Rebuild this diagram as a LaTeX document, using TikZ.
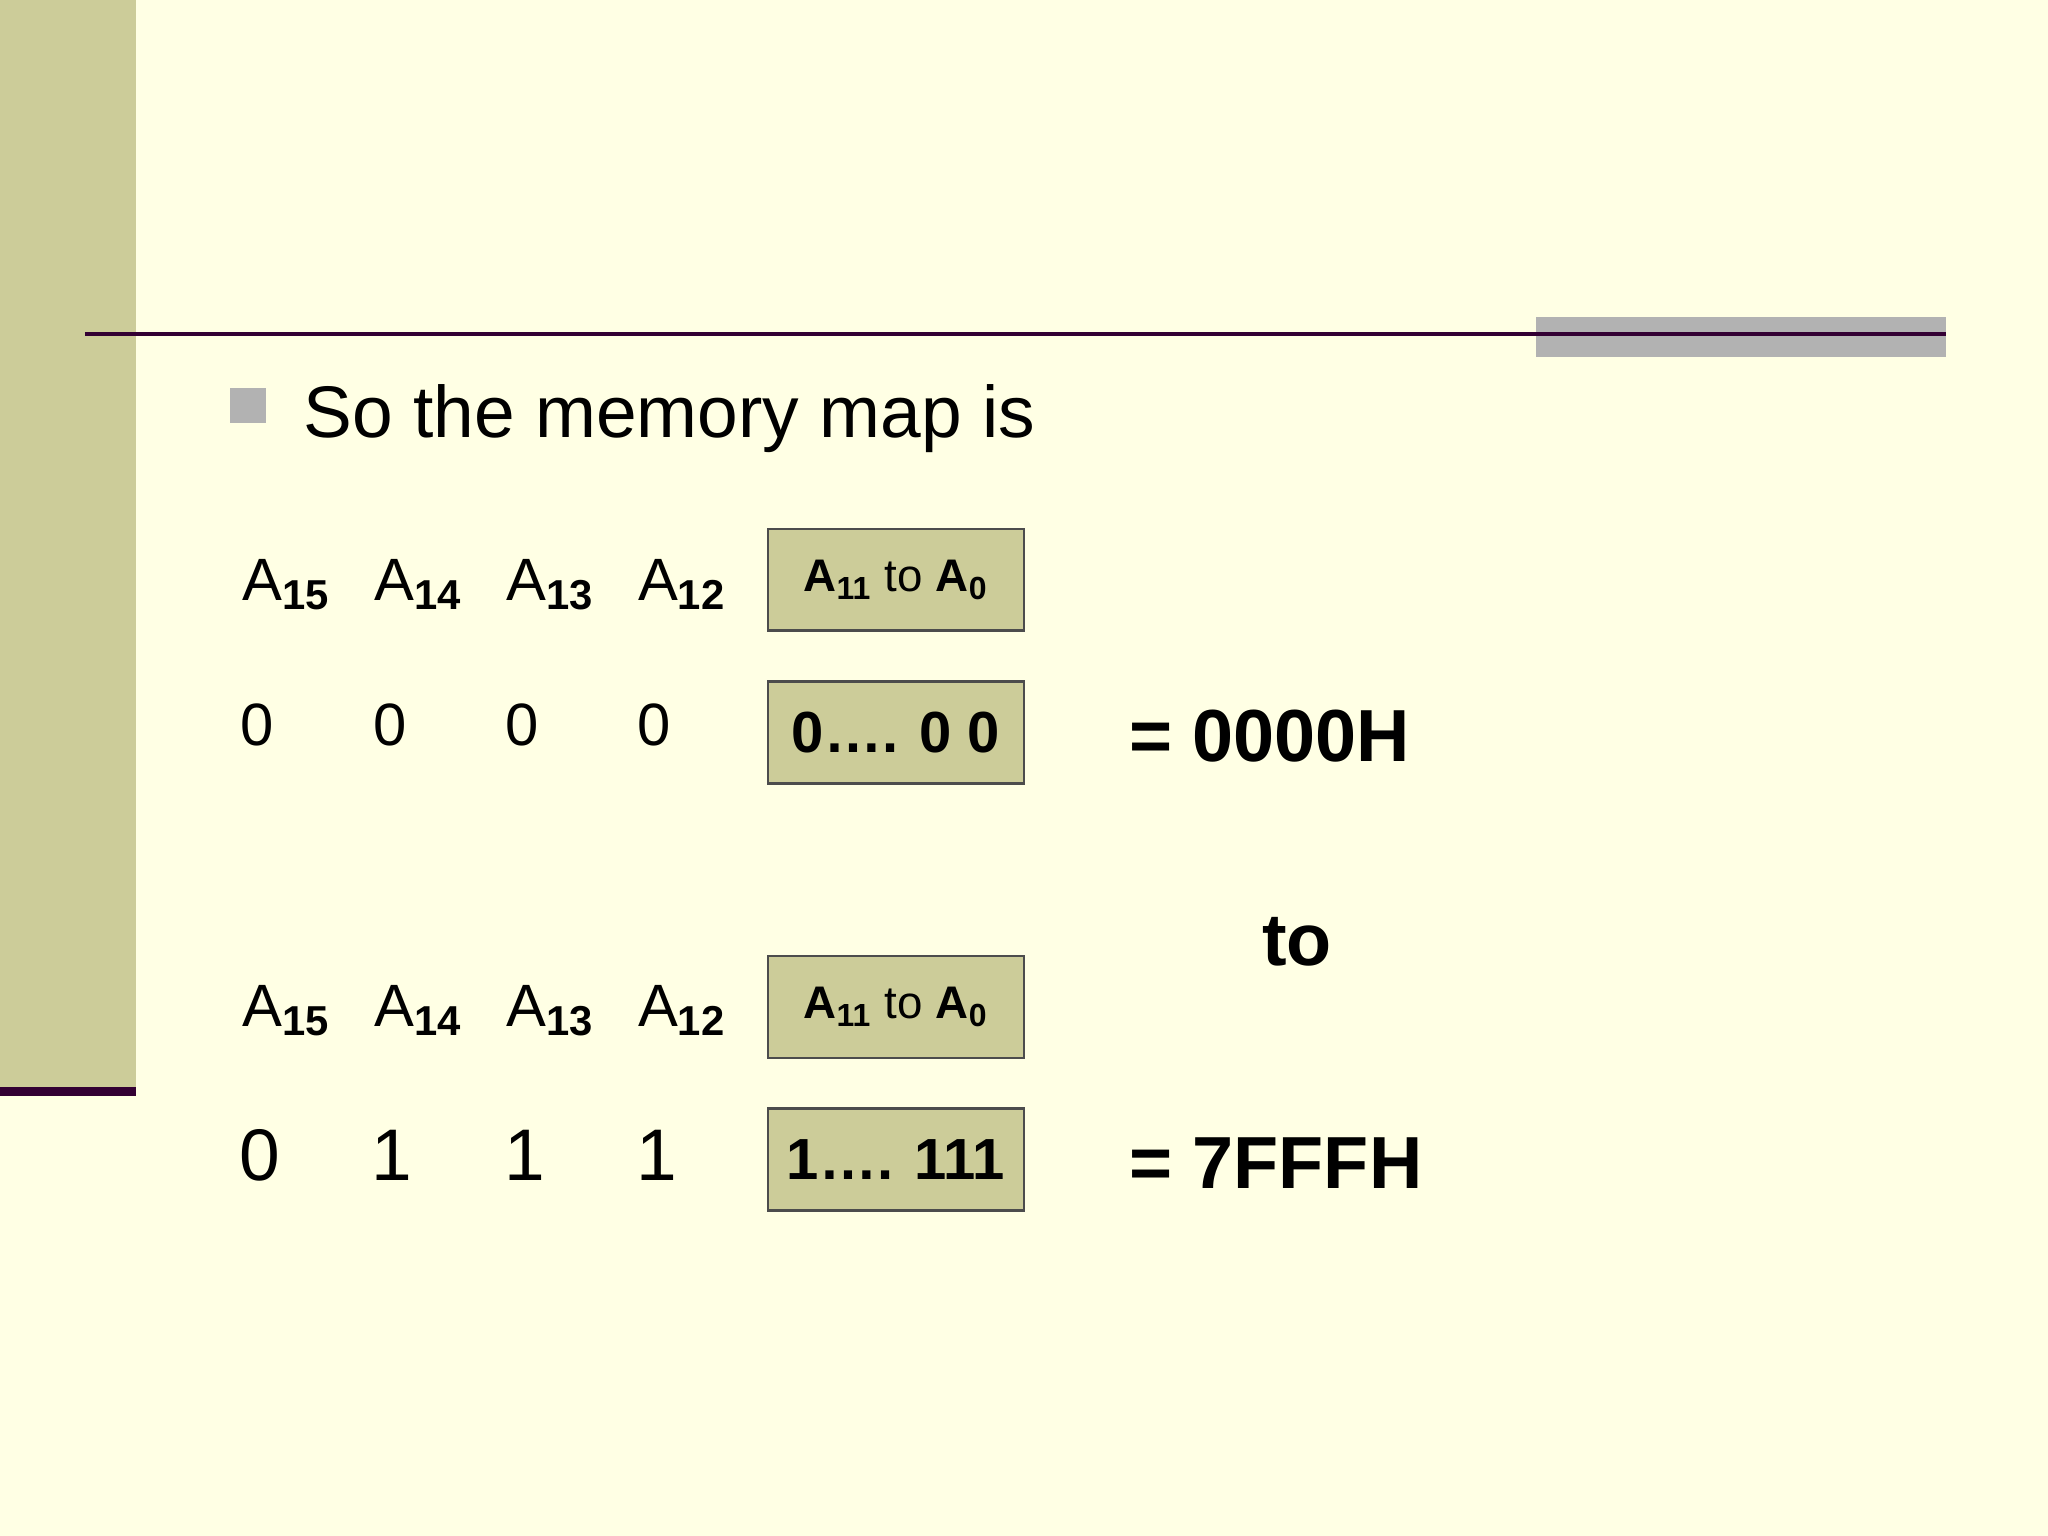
\documentclass[tikz,border=0pt]{standalone}
\usepackage{fontspec}
\setmainfont{Liberation Sans}
\definecolor{bg}{RGB}{255,255,228}
\definecolor{olive}{RGB}{204,204,153}
\definecolor{plum}{RGB}{51,0,51}
\definecolor{grayb}{RGB}{178,178,178}
\begin{document}
\begin{tikzpicture}[x=0.01306cm,y=-0.01306cm,
  lab/.style={anchor=base west,inner sep=0,font=\fontsize{17}{20}\selectfont},
  dig/.style={anchor=base,inner sep=0},
  box/.style={draw=black!70,fill=olive,line width=0.8pt,minimum width=196*0.01306cm,minimum height=78*0.01306cm,inner sep=0},
  big/.style={anchor=base west,inner sep=0,font=\fontsize{21}{24}\selectfont\bfseries}]
\fill[bg] (0,0) rectangle (1568,1176);
\useasboundingbox (0,0) rectangle (1568,1176);
\fill[olive] (0,0) rectangle (104,832);
\fill[plum] (0,832) rectangle (104,839);
\fill[grayb] (1176,243) rectangle (1490,273);
\draw[plum,line width=1.1pt] (65,256) -- (1490,256);
\fill[grayb] (176,297) rectangle (204,324);
\node[anchor=base west,inner sep=0,font=\fontsize{20.8}{24}\selectfont] (title) at (232,335) {So the memory map is};
% row labels
\foreach \y/\n in {460/a,786/b}{
 \node[lab] (\n15) at (185,\y) {A\textsubscript{\bfseries 15}};
 \node[lab] (\n14) at (286,\y) {A\textsubscript{\bfseries 14}};
 \node[lab] (\n13) at (387,\y) {A\textsubscript{\bfseries 13}};
 \node[lab] (\n12) at (488,\y) {A\textsubscript{\bfseries 12}};
}
\node[box] (b1) at (686,444) {\fontsize{13}{15}\selectfont\textbf{A\textsubscript{11}} to \textbf{A\textsubscript{0}}};
\node[box] (b2) at (686,561) {\fontsize{16.5}{18}\selectfont\bfseries 0…. 0 0};
\node[box] (b3) at (686,771) {\fontsize{13}{15}\selectfont\textbf{A\textsubscript{11}} to \textbf{A\textsubscript{0}}};
\node[box] (b4) at (686,888) {\fontsize{16.5}{18}\selectfont\bfseries 1…. 111};
\foreach \x/\d [count=\i] in {197/0,299/0,400/0,501/0}
 \node[dig,font=\fontsize{17}{20}\selectfont] (z\i) at (\x,571) {\d};
\foreach \x/\d [count=\i] in {199/0,300/1,402/1,503/1}
 \node[dig,font=\fontsize{20.8}{24}\selectfont] (o\i) at (\x,904) {\d};
\node[big] (r1) at (864,583) {= 0000H};
\node[anchor=base,inner sep=0,font=\fontsize{21}{24}\selectfont\bfseries] (to) at (993,739) {to};
\node[big] (r2) at (864,910) {= 7FFFH};
\end{tikzpicture}
\end{document}
